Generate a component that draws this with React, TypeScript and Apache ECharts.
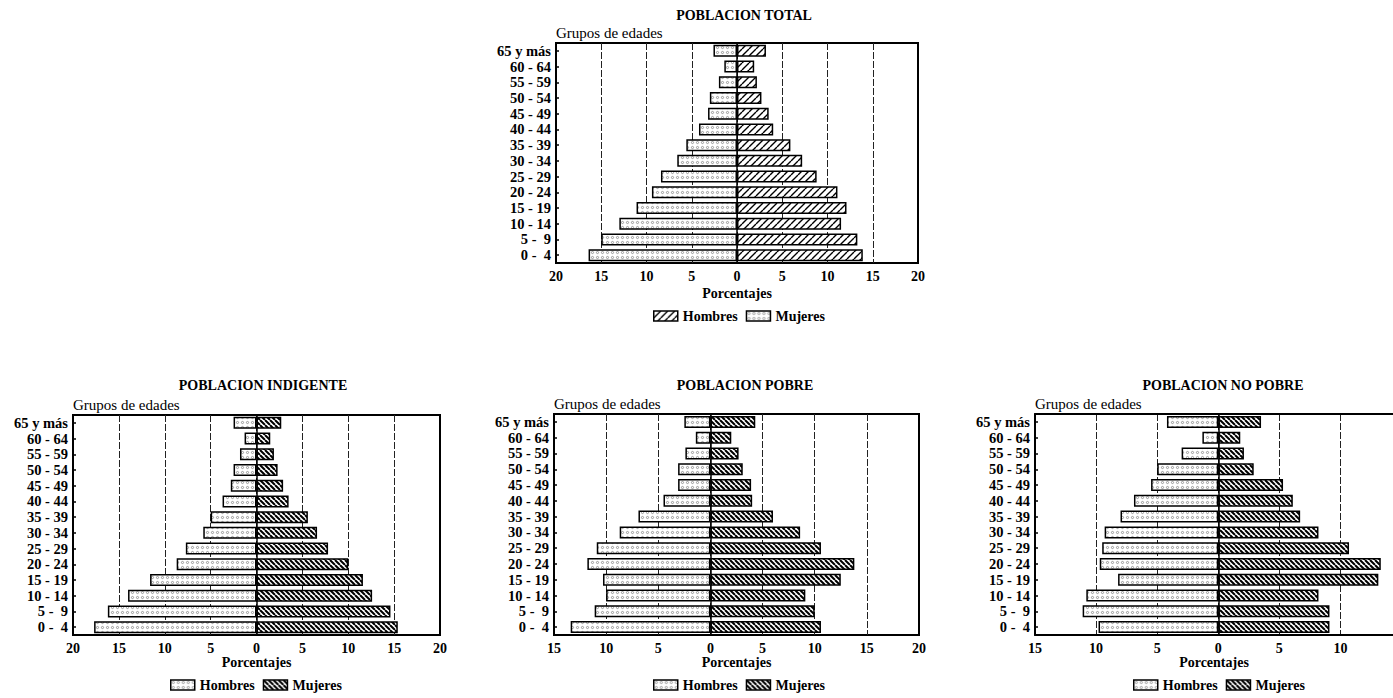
import React, { useEffect, useRef } from 'react';
import * as echarts from 'echarts';

const FONT = '"Liberation Serif", "Times New Roman", serif';

// Age groups, from bottom (0-4) to top (65 y más)
const categories = ['0 -  4', '5 -  9', '10 - 14', '15 - 19', '20 - 24', '25 - 29', '30 - 34', '35 - 39', '40 - 44', '45 - 49', '50 - 54', '55 - 59', '60 - 64', '65 y más'];

const totalHombres = [16.4, 15.0, 13.0, 11.1, 9.4, 8.4, 6.6, 5.6, 4.2, 3.2, 3.0, 2.0, 1.4, 2.6];
const totalMujeres = [13.9, 13.3, 11.5, 12.1, 11.1, 8.8, 7.2, 5.9, 4.0, 3.5, 2.7, 2.2, 1.9, 3.2];
const indigenteHombres = [17.7, 16.2, 14.0, 11.6, 8.7, 7.7, 5.8, 5.0, 3.7, 2.8, 2.5, 1.8, 1.3, 2.5];
const indigenteMujeres = [15.4, 14.6, 12.6, 11.6, 10.0, 7.8, 6.6, 5.6, 3.5, 2.9, 2.3, 1.9, 1.5, 2.7];
const pobreHombres = [13.4, 11.1, 10.0, 10.3, 11.8, 10.9, 8.7, 6.9, 4.5, 3.1, 3.1, 2.4, 1.4, 2.5];
const pobreMujeres = [10.6, 10.0, 9.1, 12.5, 13.8, 10.6, 8.6, 6.0, 4.0, 3.9, 3.1, 2.7, 2.0, 4.3];
const noPobreHombres = [9.8, 11.1, 10.8, 8.2, 9.7, 9.5, 9.3, 8.0, 6.9, 5.5, 5.0, 3.0, 1.3, 4.2];
const noPobreMujeres = [9.1, 9.1, 8.2, 13.1, 13.3, 10.7, 8.2, 6.7, 6.1, 5.3, 2.9, 2.1, 1.8, 3.5];

const titles = ['POBLACION TOTAL', 'POBLACION INDIGENTE', 'POBLACION POBRE', 'POBLACION NO POBRE'];
const hombresSets = [totalHombres, indigenteHombres, pobreHombres, noPobreHombres];
const mujeresSets = [totalMujeres, indigenteMujeres, pobreMujeres, noPobreMujeres];
const axisMin = [-20, -20, -15, -15];
const axisMax = [20, 20, 20, 14.3];

// layout only
const layout = [
  { left: 556, top: 43, width: 362, height: 220, titleX: 739, titleY: 3, legendLeft: 648, legendTop: 304, nameGap: 23, cropped: false },
  { left: 73, top: 415, width: 367, height: 220, titleX: 258, titleY: 373, legendLeft: 165, legendTop: 673, nameGap: 20, cropped: false },
  { left: 554, top: 414, width: 365, height: 221, titleX: 740, titleY: 373, legendLeft: 648, legendTop: 673, nameGap: 20, cropped: false },
  { left: 1035, top: 414, width: 358, height: 221, titleX: 1218, titleY: 373, legendLeft: 1128, legendTop: 673, nameGap: 20, cropped: true },
];

function makeDots(): HTMLCanvasElement {
  const c = document.createElement('canvas');
  c.width = 5; c.height = 5;
  const g = c.getContext('2d')!;
  g.fillStyle = '#fff'; g.fillRect(0, 0, 5, 5);
  g.strokeStyle = '#777'; g.lineWidth = 0.7;
  g.beginPath(); g.arc(2.5, 2.5, 1.1, 0, Math.PI * 2); g.stroke();
  return c;
}

function makeHatch(s: number, lw: number, back: boolean): HTMLCanvasElement {
  const c = document.createElement('canvas');
  c.width = s; c.height = s;
  const g = c.getContext('2d')!;
  g.fillStyle = '#fff'; g.fillRect(0, 0, s, s);
  g.strokeStyle = '#000'; g.lineWidth = lw;
  g.beginPath();
  for (const k of [-s, 0, s]) {
    if (back) { g.moveTo(k, 0); g.lineTo(k + s, s); }
    else { g.moveTo(k, s); g.lineTo(k + s, 0); }
  }
  g.stroke();
  return c;
}

export default function App() {
  const ref = useRef<HTMLDivElement>(null);
  useEffect(() => {
    if (!ref.current) return;
    const chart = echarts.init(ref.current, undefined, { renderer: 'svg' });
    const dots = { image: makeDots(), repeat: 'repeat' };
    const hatchTop = { image: makeHatch(7, 1.4, false), repeat: 'repeat' };
    const hatchBottom = { image: makeHatch(5, 2, true), repeat: 'repeat' };
    const border = { borderColor: '#000', borderWidth: 1.5 };
    const txt = { fontFamily: FONT, color: '#000' };

    const grid: any[] = [];
    const xAxis: any[] = [];
    const yAxis: any[] = [];
    const series: any[] = [];
    const title: any[] = [];
    const legend: any[] = [];
    const extraX: any[] = [];

    layout.forEach((L, i) => {
      const mujeresFill = i === 0 ? hatchTop : hatchBottom;
      grid.push({ left: L.left, top: L.top, width: L.width, height: L.height, show: !L.cropped, borderColor: '#000', borderWidth: 2 });
      xAxis.push({
        type: 'value', gridIndex: i, min: axisMin[i], max: axisMax[i], interval: 5,
        axisLine: { show: L.cropped, onZero: false, lineStyle: { color: '#000', width: 2 } },
        axisTick: { show: false },
        axisLabel: { ...txt, fontWeight: 'bold', fontSize: 14, margin: 6, showMaxLabel: !L.cropped, formatter: (v: number) => String(Math.abs(v)) },
        splitLine: { show: true, showMinLine: false, showMaxLine: false, lineStyle: { color: '#222', type: [7, 2], width: 1 } },
        name: 'Porcentajes', nameLocation: 'middle', nameGap: L.nameGap,
        nameTextStyle: { ...txt, fontWeight: 'bold', fontSize: 14 },
      });
      if (L.cropped) {
        extraX.push({
          type: 'value', gridIndex: i, position: 'top', min: axisMin[i], max: axisMax[i],
          axisLine: { show: true, onZero: false, lineStyle: { color: '#000', width: 2 } },
          axisTick: { show: false }, axisLabel: { show: false }, splitLine: { show: false },
        });
      }
      yAxis.push({
        type: 'category', gridIndex: i, data: categories,
        axisLine: { show: L.cropped, onZero: false, lineStyle: { color: '#000', width: 2 } },
        axisTick: { show: true, inside: true, length: 3, alignWithLabel: true, lineStyle: { color: '#000', width: 1.5 } },
        axisLabel: { ...txt, fontWeight: 'bold', fontSize: 14.5, margin: 5, interval: 0 },
        splitLine: { show: false },
        name: 'Grupos de edades', nameLocation: 'end', nameGap: 3,
        nameTextStyle: { ...txt, fontSize: 15, align: 'left' },
      });
      series.push({
        type: 'bar', name: 'Hombres', xAxisIndex: i, yAxisIndex: i, silent: true,
        data: hombresSets[i].map((v) => -v), barWidth: 12, barGap: '-100%',
        itemStyle: { color: dots, ...border },
      });
      series.push({
        type: 'bar', name: 'Mujeres', xAxisIndex: i, yAxisIndex: i, silent: true,
        data: mujeresSets[i], barWidth: 12, barGap: '-100%',
        itemStyle: { color: mujeresFill, ...border },
        markLine: {
          silent: true, symbol: ['none', 'none'], label: { show: false },
          lineStyle: { color: '#000', type: 'solid', width: 1.5 },
          data: [{ xAxis: 0 }],
        },
      });
      title.push({
        text: titles[i], left: L.titleX, top: L.titleY, textAlign: 'center',
        textStyle: { ...txt, fontWeight: 'bold', fontSize: 14 },
      });
      legend.push({
        left: L.legendLeft, top: L.legendTop, icon: 'rect', itemWidth: 24, itemHeight: 10, itemGap: 8,
        selectedMode: false,
        textStyle: { ...txt, fontWeight: 'bold', fontSize: 14 },
        data: i === 0
          ? [{ name: 'Hombres', itemStyle: { color: hatchTop, ...border } }, { name: 'Mujeres', itemStyle: { color: dots, ...border } }]
          : [{ name: 'Hombres', itemStyle: { color: dots, ...border } }, { name: 'Mujeres', itemStyle: { color: hatchBottom, ...border } }],
      });
    });

    chart.setOption({
      animation: false,
      backgroundColor: '#fff',
      title, legend, grid, xAxis: xAxis.concat(extraX), yAxis, series,
    });
    return () => chart.dispose();
  }, []);
  return <div ref={ref} style={{ position: 'absolute', left: 0, top: 0, width: 1393, height: 698 }} />;
}
